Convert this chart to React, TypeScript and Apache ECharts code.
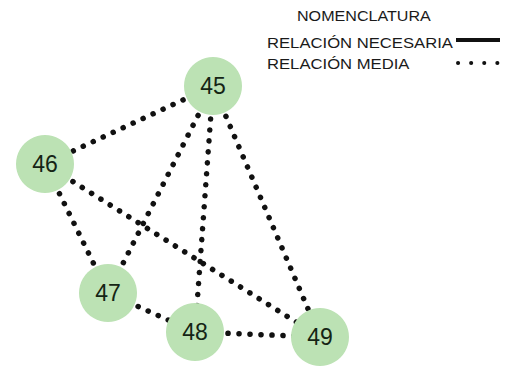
import React, { useEffect, useRef } from "react";
import * as echarts from "echarts";

const nodeIds = ["45", "46", "47", "48", "49"];
const nodeX = [213, 45, 108, 195, 320];
const nodeY = [86, 164, 293, 332, 337];
const linkSources = ["45", "45", "45", "45", "46", "46", "47", "48"];
const linkTargets = ["46", "47", "48", "49", "47", "49", "48", "49"];
const legendTitle = "NOMENCLATURA";
const legendItems = ["RELACIÓN NECESARIA", "RELACIÓN MEDIA"];

export default function App() {
  const ref = useRef<HTMLDivElement>(null);
  useEffect(() => {
    document.body.style.margin = "0";
    const chart = echarts.init(ref.current!, null, { renderer: "svg" });
    const nodes = nodeIds.map((id, i) => ({ name: id, value: [nodeX[i], nodeY[i]] }));
    const links = linkSources.map((s, i) => ({ source: s, target: linkTargets[i] }));
    const textStyle = {
      fill: "#1a1a1a",
      fontSize: 14,
      fontFamily: "Liberation Sans, Arial, sans-serif",
    };
    chart.setOption({
      animation: false,
      backgroundColor: "#fff",
      grid: { left: 0, top: 0, right: 0, bottom: 0 },
      xAxis: { type: "value", min: 0, max: 514, show: false },
      yAxis: { type: "value", min: 0, max: 367, inverse: true, show: false },
      series: [
        {
          type: "graph",
          coordinateSystem: "cartesian2d",
          layout: "none",
          symbol: "circle",
          symbolSize: 58,
          data: nodes,
          links,
          itemStyle: { color: "#bce2b4" },
          label: {
            show: true,
            position: "inside",
            color: "#152515",
            fontSize: 23,
            fontFamily: "Liberation Sans, Arial, sans-serif",
            formatter: "{b}",
          },
          lineStyle: {
            color: "#111",
            width: 5.5,
            opacity: 1,
            type: [0.1, 10.9],
            cap: "round",
          },
          emphasis: { disabled: true },
          z: 2,
        },
      ],
      graphic: [
        {
          type: "text",
          x: 297,
          y: 9,
          scaleX: 1.15,
          style: { ...textStyle, text: legendTitle },
        },
        {
          type: "text",
          x: 267,
          y: 36,
          scaleX: 1.19,
          style: { ...textStyle, text: legendItems[0] },
        },
        {
          type: "text",
          x: 267,
          y: 57,
          scaleX: 1.19,
          style: { ...textStyle, text: legendItems[1] },
        },
        {
          type: "line",
          shape: { x1: 456, y1: 40, x2: 500, y2: 40 },
          style: { stroke: "#111", lineWidth: 4 },
        },
        {
          type: "line",
          shape: { x1: 458, y1: 63, x2: 500, y2: 63 },
          style: { stroke: "#111", lineWidth: 4, lineDash: [0.1, 13], lineCap: "round" },
        },
      ],
    });
    return () => chart.dispose();
  }, []);
  return <div ref={ref} style={{ width: 514, height: 367 }} />;
}
